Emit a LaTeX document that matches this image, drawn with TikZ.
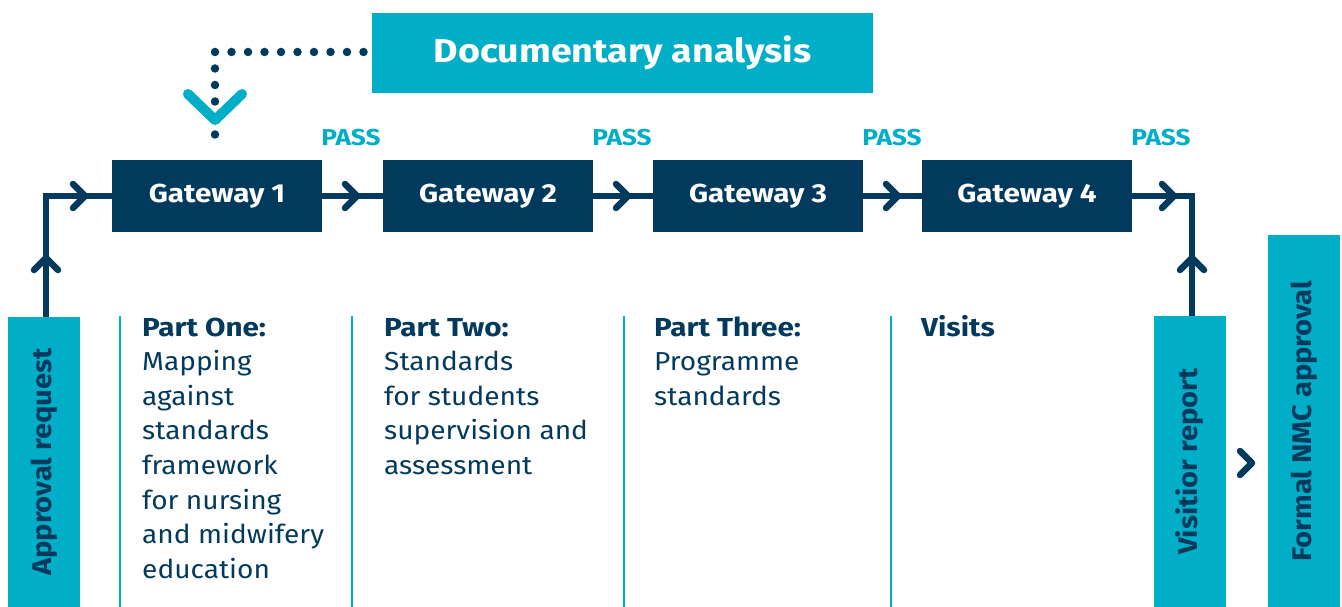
\documentclass[tikz,border=0pt]{standalone}
\usepackage{fontspec}
\setmainfont{Fira Sans}[FakeStretch=1.08]
\newfontfamily\bfam{Fira Sans}[FakeStretch=1.14]
\definecolor{tealc}{HTML}{00AEC7}
\definecolor{navy}{HTML}{023A5E}
\newcommand{\coltitle}[1]{{\bfam\bfseries #1}}
\begin{document}
\begin{tikzpicture}[x=1pt,y=-1pt,
  gate/.style={fill=navy,text=white,minimum width=210pt,minimum height=71pt,inner sep=0pt,font=\bfam\fontsize{26}{30}\selectfont\bfseries},
  tbox/.style={fill=tealc,inner sep=0pt},
  vlabel/.style={tbox,rotate=90,minimum height=72pt,text=navy,font=\fontsize{27}{30}\selectfont\bfseries},
  pass/.style={text=tealc,inner sep=0pt,font=\bfam\fontsize{23}{26}\selectfont\bfseries},
  conn/.style={draw=navy,line width=6.5pt},
  dotline/.style={draw=navy,line width=8.5pt,line cap=round,dash pattern=on 0pt off 16.5pt},
  sepline/.style={draw=tealc,line width=2.2pt},
  coltext/.style={anchor=base west,inner sep=0pt,text=navy},
  chev/.pic={\draw[navy,line width=6.5pt,line cap=round,line join=round] (-12,-12) -- (0,0) -- (-12,12);}
]
\useasboundingbox (0,0) rectangle (1342,607);

% top box
\node[tbox,minimum width=501pt,minimum height=80pt,text=white,font=\bfam\fontsize{33}{36}\selectfont\bfseries] (doc) at (622.5,53) {Documentary analysis};

% gateways
\node[gate] (g1) at (217,196) {Gateway 1};
\node[gate] (g2) at (488,196) {Gateway 2};
\node[gate] (g3) at (758,196) {Gateway 3};
\node[gate] (g4) at (1027,196) {Gateway 4};

% side boxes
\node[vlabel,minimum width=290pt] (appr) at (44,462) {Approval request};
\node[vlabel,minimum width=291pt] (vr) at (1190,461.5) {Visitior report};
\node[vlabel,minimum width=372pt] (nmc) at (1304,421) {Formal NMC approval};

% PASS labels
\node[pass] (p1) at (351,138) {PASS};
\node[pass] (p2) at (622,138) {PASS};
\node[pass] (p3) at (892,138) {PASS};
\node[pass] (p4) at (1161,138) {PASS};

% dotted line
\coordinate (d0) at (363.5,52);
\coordinate (d1) at (215,151);
\draw[dotline] (d0) -| (d1);
\draw[tealc,line width=10pt,line cap=round,line join=round] (188,94) -- (215,120) -- (242,94);

% connectors
\draw[conn] ([xshift=2pt]appr.east) |- (g1.west);
\draw[conn] (g1.east) -- (g2.west);
\draw[conn] (g2.east) -- (g3.west);
\draw[conn] (g3.east) -- (g4.west);
\draw[conn] (g4.east) -| ([xshift=2pt]vr.east);

% chevrons
\pic at (85,196) {chev};
\pic[rotate=90] at (46,258) {chev};
\pic at (357,196) {chev};
\pic at (628,196) {chev};
\pic at (898,196) {chev};
\pic at (1174,196) {chev};
\pic[rotate=90] at (1192,258) {chev};
\pic at (1252,463) {chev};

% separators
\draw[sepline] (120,316) -- (120,607);
\draw[sepline] (352,316) -- (352,607);
\draw[sepline] (624,316) -- (624,607);
\draw[sepline] (891,316) -- (891,607);

% column texts
\node[coltext] (c1) at (142,336) {\parbox[t]{220pt}{\fontsize{26}{34.6}\selectfont\raggedright\coltitle{Part One:}\\Mapping\\against\\standards\\framework\\for nursing\\and midwifery\\education}};
\node[coltext] (c2) at (384,336) {\parbox[t]{230pt}{\fontsize{26}{34.6}\selectfont\raggedright\coltitle{Part Two:}\\Standards\\for students\\supervision and\\assessment}};
\node[coltext] (c3) at (654,336) {\parbox[t]{220pt}{\fontsize{26}{34.6}\selectfont\raggedright\coltitle{Part Three:}\\Programme\\standards}};
\node[coltext] (c4) at (921,336) {\parbox[t]{200pt}{\fontsize{26}{34.6}\selectfont\raggedright\coltitle{Visits}}};
\end{tikzpicture}
\end{document}
